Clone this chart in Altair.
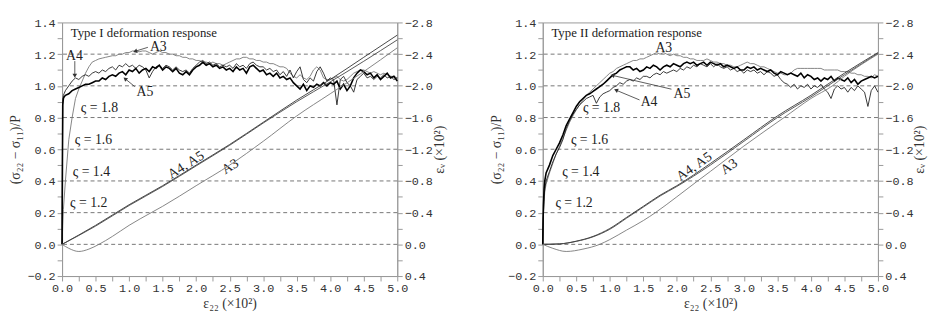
import math
import altair as alt
import pandas as pd

# ---------------- data ----------------
X_EARLY = [0.0, 0.005, 0.01, 0.02, 0.03]
X_REG = [round(0.05 * i, 2) for i in range(1, 101)]
X_GRID = X_EARLY + X_REG

# Type I : stress ratio (sigma22 - sigma11)/P
T1_A5 = [0.0, 0.5, 0.88, 0.92, 0.93,
         0.94, 0.95, 0.97, 0.98, 0.99, 1.00, 1.01, 1.01, 1.02, 1.03,
         1.03, 1.05, 1.04, 1.06, 1.07, 1.06, 1.08, 1.09, 1.07, 1.10,
         1.09, 1.11, 1.08, 1.10, 1.11, 1.09, 1.12, 1.11, 1.13, 1.10,
         1.12, 1.11, 1.09, 1.11, 1.08, 1.07, 1.09, 1.07, 1.10, 1.12,
         1.13, 1.15, 1.13, 1.14, 1.12, 1.13, 1.11, 1.12, 1.10, 1.11,
         1.09, 1.12, 1.10, 1.11, 1.08, 1.12, 1.13, 1.11, 1.09, 1.10,
         1.07, 1.08, 1.06, 1.08, 1.05, 1.06, 1.04, 1.05, 1.02, 1.00,
         0.98, 1.01, 0.97, 1.00, 0.99, 1.01, 1.00, 1.02, 1.00, 1.02,
         1.01, 1.03, 0.98, 1.01, 0.97, 1.00, 1.05, 1.08, 1.10, 1.09,
         1.07, 1.08, 1.05, 1.07, 1.04, 1.06, 1.08, 1.05, 1.06, 1.03]
T1_A4 = [0.0, 0.5, 0.90, 0.94, 0.95,
         0.97, 1.00, 1.03, 1.05, 1.04, 1.06, 1.07, 1.06, 1.08, 1.09,
         1.08, 1.10, 1.09, 1.11, 1.12, 1.10, 1.13, 1.12, 1.14, 1.12,
         1.13, 1.11, 1.13, 1.12, 1.10, 1.05, 1.09, 1.12, 1.13, 1.11,
         1.13, 1.12, 1.10, 1.12, 1.10, 1.09, 1.10, 1.08, 1.11, 1.13,
         1.15, 1.16, 1.14, 1.15, 1.13, 1.14, 1.12, 1.13, 1.12, 1.13,
         1.11, 1.14, 1.12, 1.13, 1.11, 1.14, 1.15, 1.13, 1.12, 1.12,
         1.10, 1.11, 1.09, 1.10, 1.07, 1.09, 1.06, 1.10, 1.05, 1.09,
         1.12, 1.04, 1.02, 1.05, 1.03, 1.09, 1.12, 1.08, 1.03, 1.05,
         1.04, 0.88, 1.04, 1.06, 1.02, 1.00, 0.96, 1.04, 1.06, 1.08,
         1.05, 1.06, 1.04, 1.06, 1.05, 1.07, 1.05, 1.06, 1.04, 1.05]
T1_A3 = [0.0, 0.06, 0.12, 0.22, 0.28,
         0.40, 0.66, 0.80, 0.92, 0.98, 1.03, 1.08, 1.12, 1.15, 1.16,
         1.17, 1.175, 1.18, 1.185, 1.19, 1.19, 1.20, 1.20, 1.21, 1.21,
         1.22, 1.22, 1.215, 1.22, 1.22, 1.21, 1.20, 1.21, 1.22, 1.21,
         1.21, 1.20, 1.20, 1.19, 1.19, 1.18, 1.18, 1.17, 1.17, 1.16,
         1.16, 1.15, 1.15, 1.14, 1.15, 1.14, 1.14, 1.13, 1.14, 1.15,
         1.16, 1.17, 1.17, 1.18, 1.18, 1.17, 1.17, 1.16, 1.16, 1.15,
         1.15, 1.14, 1.14, 1.13, 1.12, 1.12, 1.11, 1.08, 1.06, 1.05,
         1.07, 1.05, 1.04, 1.06, 1.10, 1.12, 1.10, 1.05, 1.04, 1.04,
         1.05, 1.06, 1.04, 1.03, 1.04, 1.06, 1.08, 1.09, 1.10, 1.10,
         1.09, 1.08, 1.09, 1.08, 1.07, 1.08, 1.07, 1.06, 1.06, 1.05]

# Type II : stress ratio
T2_A5 = [0.0, 0.15, 0.25, 0.35, 0.40,
         0.45, 0.50, 0.56, 0.60, 0.64, 0.69, 0.75, 0.79, 0.83, 0.87,
         0.90, 0.92, 0.94, 0.95, 0.965, 0.98, 0.995, 1.01, 1.03, 1.05,
         1.07, 1.08, 1.10, 1.11, 1.12, 1.12, 1.10, 1.11, 1.09, 1.10,
         1.12, 1.11, 1.13, 1.12, 1.10, 1.12, 1.13, 1.12, 1.14, 1.13,
         1.12, 1.14, 1.15, 1.14, 1.15, 1.13, 1.14, 1.15, 1.13, 1.15,
         1.14, 1.13, 1.14, 1.12, 1.13, 1.12, 1.11, 1.12, 1.10, 1.10,
         1.12, 1.11, 1.12, 1.10, 1.11, 1.10, 1.09, 1.10, 1.08, 1.07,
         1.09, 1.08, 1.07, 1.08, 1.07, 1.06, 1.08, 1.05, 1.07, 1.06,
         1.04, 1.05, 1.03, 1.05, 1.04, 1.06, 1.03, 1.05, 1.04, 1.03,
         1.05, 1.02, 1.04, 1.01, 1.03, 1.04, 1.05, 1.06, 1.05, 1.06]
T2_A4 = [0.0, 0.12, 0.20, 0.30, 0.35,
         0.40, 0.46, 0.52, 0.57, 0.61, 0.66, 0.73, 0.78, 0.82, 0.85,
         0.88, 0.90, 0.92, 0.93, 0.94, 0.89, 0.93, 0.95, 0.96, 0.97,
         0.99, 1.00, 1.02, 1.01, 1.03, 1.04, 1.03, 1.05, 1.04, 1.06,
         1.06, 1.05, 1.07, 1.08, 1.07, 1.09, 1.08, 1.09, 1.10, 1.09,
         1.11, 1.10, 1.12, 1.11, 1.13, 1.12, 1.14, 1.13, 1.12, 1.14,
         1.12, 1.14, 1.12, 1.11, 1.12, 1.10, 1.11, 1.09, 1.10, 1.08,
         1.10, 1.09, 1.10, 1.08, 1.09, 1.07, 1.09, 1.08, 1.06, 1.07,
         1.04, 1.02, 1.01, 0.99, 1.01, 0.98, 1.00, 0.99, 1.01, 0.98,
         1.00, 0.99, 1.01, 0.98, 0.96, 0.92, 0.98, 1.00, 0.98, 0.99,
         0.96, 0.99, 0.97, 1.00, 0.98, 0.96, 0.87, 0.97, 1.00, 0.96]
T2_A3 = [0.0, 0.10, 0.18, 0.27, 0.33,
         0.38, 0.45, 0.51, 0.57, 0.62, 0.67, 0.72, 0.77, 0.81, 0.85,
         0.88, 0.91, 0.94, 0.96, 0.98, 1.00, 1.02, 1.04, 1.06, 1.08,
         1.09, 1.11, 1.12, 1.13, 1.14, 1.15, 1.16, 1.16, 1.17, 1.17,
         1.18, 1.19, 1.20, 1.21, 1.20, 1.21, 1.20, 1.19, 1.20, 1.19,
         1.19, 1.18, 1.18, 1.17, 1.17, 1.16, 1.16, 1.16, 1.17, 1.16,
         1.15, 1.15, 1.14, 1.14, 1.13, 1.13, 1.12, 1.12, 1.13, 1.14,
         1.15, 1.14, 1.14, 1.13, 1.12, 1.12, 1.11, 1.10, 1.09, 1.08,
         1.08, 1.07, 1.07, 1.08, 1.10, 1.11, 1.11, 1.11, 1.11, 1.11,
         1.11, 1.11, 1.11, 1.10, 1.10, 1.10, 1.10, 1.10, 1.09, 1.09,
         1.09, 1.08, 1.08, 1.07, 1.07, 1.06, 1.06, 1.05, 1.07, 1.06]

# volumetric strain eps_V (x10^2), right axis
T1_VOL_X = [0.0, 0.5, 1.0, 1.5, 2.0, 2.5, 3.0, 3.5, 4.0, 4.5, 5.0]
T1_VOL_A4 = [0.0, -0.24, -0.50, -0.74, -1.00, -1.26, -1.54, -1.82, -2.08, -2.36, -2.64]
T1_VOL_A5 = [0.0, -0.23, -0.49, -0.73, -0.99, -1.25, -1.53, -1.80, -2.05, -2.31, -2.58]
T1_VOL_A3_X = [0.0, 0.1, 0.25, 0.4, 0.55, 0.75, 1.0, 1.33, 1.5, 2.0, 2.5, 3.0, 3.5, 4.0, 4.5, 5.0]
T1_VOL_A3 = [0.0, 0.05, 0.09, 0.06, 0.0, -0.10, -0.24, -0.40, -0.48, -0.74, -1.00, -1.30, -1.62, -1.90, -2.18, -2.48]

T2_VOL_X = [0.0, 0.25, 0.5, 0.75, 1.0, 1.25, 1.5, 1.75, 2.0, 2.5, 3.0, 3.5, 4.0, 4.5, 5.0]
T2_VOL_A4 = [0.0, -0.006, -0.04, -0.10, -0.20, -0.34, -0.48, -0.62, -0.74, -1.02, -1.32, -1.62, -1.88, -2.16, -2.42]
T2_VOL_A5 = [0.0, -0.005, -0.038, -0.095, -0.19, -0.33, -0.47, -0.61, -0.73, -1.00, -1.30, -1.60, -1.86, -2.14, -2.41]
T2_VOL_A3_X = [0.0, 0.15, 0.35, 0.6, 0.85, 1.0, 1.25, 1.5, 1.68, 2.0, 2.31, 2.5, 3.0, 3.6, 4.0, 4.32, 4.5, 5.0]
T2_VOL_A3 = [0.0, 0.05, 0.09, 0.06, 0.0, -0.06, -0.18, -0.30, -0.40, -0.60, -0.80, -0.92, -1.24, -1.60, -1.84, -2.00, -2.12, -2.40]

GRID_LEVELS = [0.0, 0.2, 0.4, 0.6, 0.8, 1.0, 1.2]
ZETA_TEXT = ["ς = 1.2", "ς = 1.4", "ς = 1.6", "ς = 1.8"]
ZETA_Y = [0.215, 0.415, 0.615, 0.815]

# ---------------- annotation placement (data coordinates) ----------------
T1_ZETA_X = [0.12, 0.16, 0.19, 0.28]
T2_ZETA_X = [0.19, 0.29, 0.42, 0.60]

W, H = 341, 258
SERIF = "Liberation Serif"
MONO = "Liberation Mono"

X_TICKS = [round(0.25 * i, 2) for i in range(21)]
YL_TICKS = [round(-0.2 + 0.1 * i, 1) for i in range(17)]
YR_TICKS = [round(-2.8 + 0.2 * i, 1) + 0.0 for i in range(17)]

XSCALE = alt.Scale(domain=[0, 5], nice=False, zero=False)
YSCALE = alt.Scale(domain=[-0.2, 1.4], nice=False, zero=False)
YRSCALE = alt.Scale(domain=[-2.8, 0.4], reverse=True, nice=False, zero=False)

XAXIS = alt.Axis(values=X_TICKS, labelOverlap=False, labelFlush=False,
                 labelExpr="round(datum.value*4) % 2 == 0 ? format(datum.value, '.1f') : ''",
                 title="ε₂₂ (×10²)", titlePadding=3)
YAXIS = alt.Axis(values=YL_TICKS, labelOverlap=False,
                 labelExpr="round(datum.value*10) % 2 == 0 ? format(datum.value, '.1f') : ''",
                 title="(σ₂₂ − σ₁₁)/P", titlePadding=4)
YRAXIS = alt.Axis(values=YR_TICKS, orient="right", labelOverlap=False,
                  labelExpr="round(datum.value*5) % 2 == 0 ? format(datum.value, '.1f') : ''",
                  title="εᵥ (×10²)", titleAngle=270, titlePadding=14)


def xenc():
    return alt.X("x:Q", scale=XSCALE, axis=XAXIS)


def yenc():
    return alt.Y("y:Q", scale=YSCALE, axis=YAXIS)


def panel(a3, a4, a5, v_x, v_a4, v_a5, v_a3x, v_a3, zeta_x, title, labels, arrows, rot):
    grid = alt.Chart(pd.DataFrame({"y": GRID_LEVELS})).mark_rule(
        color="#666", strokeDash=[4, 3], strokeWidth=0.9).encode(y=yenc())

    def sline(vals, color, width):
        df = pd.DataFrame({"x": X_GRID, "y": vals})
        return alt.Chart(df).mark_line(color=color, strokeWidth=width).encode(x=xenc(), y=yenc())

    s3 = sline(a3, "#777", 0.9)
    s4 = sline(a4, "#222", 0.9)
    s5 = sline(a5, "#000", 1.6)

    zeta = alt.Chart(pd.DataFrame({"x": zeta_x, "y": ZETA_Y, "t": ZETA_TEXT})).mark_text(
        align="left", baseline="bottom", font=SERIF, fontSize=14, color="#222").encode(
        x=xenc(), y=yenc(), text="t:N")

    ttl = alt.Chart(pd.DataFrame({"x": [0.13], "y": [1.335], "t": [title]})).mark_text(
        align="left", baseline="middle", font=SERIF, fontSize=13, color="#222").encode(
        x=xenc(), y=yenc(), text="t:N")

    lab = alt.Chart(pd.DataFrame(labels, columns=["x", "y", "t"])).mark_text(
        align="left", baseline="middle", font=SERIF, fontSize=14, color="#222").encode(
        x=xenc(), y=yenc(), text="t:N")

    adf = pd.DataFrame(arrows, columns=["x", "y", "x2", "y2"])
    arr = alt.Chart(adf).mark_rule(color="#333", strokeWidth=0.8).encode(
        x=xenc(), y=yenc(), x2="x2:Q", y2="y2:Q")
    # arrow heads: orientation from the arrow direction in screen space
    heads = pd.DataFrame({
        "x": adf["x2"], "y": adf["y2"],
        "ang": [math.degrees(math.atan2((r.x2 - r.x) * W / 5.0, (r.y2 - r.y) * H / 1.6))
                for r in adf.itertuples()],
    })
    head = alt.Chart(heads).mark_point(shape="triangle-up", filled=True, color="#333",
                                       size=22, opacity=1).encode(
        x=xenc(), y=yenc(), angle=alt.Angle("ang:Q", scale=None))

    rots = []
    for (rx, ry, rt, ang) in rot:
        rots.append(alt.Chart(pd.DataFrame({"x": [rx], "y": [ry], "t": [rt]})).mark_text(
            align="center", baseline="middle", font=SERIF, fontSize=14, color="#222",
            angle=ang).encode(x=xenc(), y=yenc(), text="t:N"))

    left = alt.layer(grid, s3, s4, s5, zeta, ttl, lab, arr, head, *rots)

    vdf = pd.concat([
        pd.DataFrame({"x": v_x, "ev": v_a4, "s": "A4"}),
        pd.DataFrame({"x": v_x, "ev": v_a5, "s": "A5"}),
        pd.DataFrame({"x": v_a3x, "ev": v_a3, "s": "A3"}),
    ])
    vol = alt.Chart(vdf).mark_line(interpolate="monotone", strokeWidth=0.9).encode(
        x=xenc(),
        y=alt.Y("ev:Q", scale=YRSCALE, axis=YRAXIS),
        detail="s:N",
        color=alt.Color("s:N", scale=alt.Scale(domain=["A3", "A4", "A5"],
                                                range=["#777", "#333", "#444"]), legend=None),
    )
    return alt.layer(left, vol).resolve_scale(y="independent").properties(width=W, height=H)


p1 = panel(T1_A3, T1_A4, T1_A5, T1_VOL_X, T1_VOL_A4, T1_VOL_A5, T1_VOL_A3_X, T1_VOL_A3,
           T1_ZETA_X, "Type I deformation response",
           [(1.31, 1.243, "A3"), (0.06, 1.19, "A4"), (1.11, 0.958, "A5")],
           [(1.28, 1.243, 1.09, 1.218), (0.19, 1.156, 0.19, 1.063), (1.085, 0.995, 0.94, 1.045)],
           [(1.85, 0.50, "A4, A5", 328), (2.51, 0.49, "A3", 328)])
p2 = panel(T2_A3, T2_A4, T2_A5, T2_VOL_X, T2_VOL_A4, T2_VOL_A5, T2_VOL_A3_X, T2_VOL_A3,
           T2_ZETA_X, "Type II deformation response",
           [(1.68, 1.24, "A3"), (1.95, 0.948, "A5"), (1.46, 0.898, "A4")],
           [(1.92, 0.979, 1.04, 1.066), (1.444, 0.911, 1.092, 0.973)],
           [(2.26, 0.49, "A4, A5", 325), (2.78, 0.49, "A3", 325)])

chart = alt.hconcat(p1, p2, spacing=42).configure_view(
    stroke="#999", strokeWidth=1
).configure_axis(
    grid=False, domainColor="#999", tickColor="#999", tickSize=5,
    labelFont=MONO, labelFontSize=12, labelColor="#333", labelPadding=2,
    titleFont=SERIF, titleFontSize=14, titleFontWeight="normal", titleColor="#333",
).properties(padding={"left": 0, "top": 5, "right": 5, "bottom": 5})

chart.save("out.html", embed_options={"renderer": "svg", "actions": False})
